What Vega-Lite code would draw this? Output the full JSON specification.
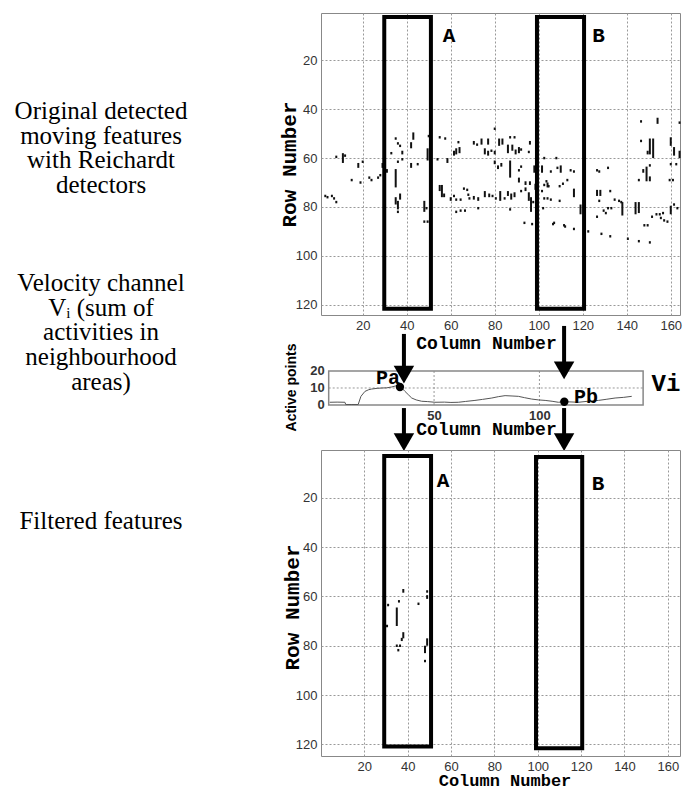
{
  "$schema": "https://vega.github.io/schema/vega-lite/v6.json",
  "padding": {"left": 0, "top": 12, "right": 5, "bottom": 0},
  "bounds": "flush",
  "columns": 2,
  "spacing": {"row": 45, "column": 119},
  "datasets": {
    "top": [
      {"c":3,"r":75,"r2":76},{"c":4,"r":75.5,"r2":76.5},{"c":6,"r":75,"r2":76},{"c":7,"r":76,"r2":77},{"c":8,"r":77.5,"r2":78.5},
      {"c":8,"r":59,"r2":60},{"c":11,"r":58,"r2":62},{"c":12,"r":58.5,"r2":59.5},{"c":18,"r":62,"r2":64},{"c":20,"r":61,"r2":62},
      {"c":15,"r":68.5,"r2":69.5},{"c":19,"r":69.5,"r2":70.5},{"c":23,"r":67.5,"r2":68.5},{"c":24,"r":68.5,"r2":69.5},{"c":27,"r":67.5,"r2":68.5},
      {"c":28,"r":66.5,"r2":67.5},{"c":29,"r":62,"r2":64},{"c":31,"r":64.5,"r2":66},{"c":33,"r":57.5,"r2":58.5},{"c":35,"r":51.5,"r2":52.5},
      {"c":36,"r":53.5,"r2":54.5},{"c":37,"r":54.5,"r2":55.5},{"c":38,"r":57,"r2":58.5},{"c":36,"r":61,"r2":62},{"c":38,"r":60,"r2":61},
      {"c":35,"r":64.5,"r2":72},{"c":35,"r":76,"r2":79},{"c":36,"r":77.5,"r2":81},{"c":37,"r":74.5,"r2":77},{"c":36,"r":81.5,"r2":82.5},
      {"c":42,"r":53.5,"r2":56},{"c":43,"r":49.5,"r2":52.5},{"c":42,"r":62,"r2":64},{"c":45,"r":62,"r2":63},{"c":48,"r":77.5,"r2":82},
      {"c":49,"r":80,"r2":81},{"c":48,"r":85.5,"r2":86.5},{"c":49.5,"r":85.5,"r2":86.5},{"c":49.5,"r":56,"r2":61},{"c":50,"r":50.5,"r2":51.5},
      {"c":55,"r":51,"r2":52},{"c":54,"r":60,"r2":61},{"c":55,"r":71,"r2":73.5},{"c":56,"r":71,"r2":76},{"c":57,"r":74.5,"r2":76},
      {"c":57.5,"r":51.5,"r2":52.5},{"c":58.5,"r":60,"r2":62},{"c":60,"r":76,"r2":77.5},{"c":61.5,"r":57,"r2":59},{"c":61.5,"r":75,"r2":76},
      {"c":62.5,"r":56,"r2":58.5},{"c":62.5,"r":76.5,"r2":77.5},{"c":62.5,"r":81.5,"r2":82.5},{"c":64,"r":55.5,"r2":58},{"c":63.5,"r":53,"r2":54},
      {"c":64.5,"r":76.5,"r2":77.5},{"c":64.5,"r":81,"r2":82},{"c":66.5,"r":81,"r2":82},{"c":66,"r":72,"r2":73},{"c":67.5,"r":72.5,"r2":73.5},
      {"c":68,"r":74.5,"r2":75.5},{"c":68.5,"r":76,"r2":77},{"c":70.5,"r":53,"r2":54.5},{"c":70.5,"r":75.5,"r2":77},{"c":72,"r":54,"r2":55},
      {"c":72.5,"r":76,"r2":77.5},{"c":72.5,"r":80,"r2":81},{"c":74,"r":52,"r2":54.5},{"c":75.5,"r":56,"r2":58.5},{"c":75.5,"r":73.5,"r2":76},
      {"c":77,"r":52,"r2":54.5},{"c":77,"r":57,"r2":59},{"c":77.5,"r":74.5,"r2":76},{"c":78.5,"r":56.5,"r2":57.5},{"c":79,"r":75,"r2":76},
      {"c":80,"r":57,"r2":58.5},{"c":80,"r":47.5,"r2":48.5},{"c":80,"r":61,"r2":62.5},{"c":80.5,"r":76,"r2":77},{"c":82,"r":52,"r2":55},
      {"c":82.5,"r":73.5,"r2":77.5},{"c":83.5,"r":52,"r2":54.5},{"c":81.5,"r":63,"r2":64.5},{"c":83,"r":62,"r2":63.5},{"c":84.5,"r":76,"r2":77},
      {"c":86,"r":73.5,"r2":75.5},{"c":86,"r":54.5,"r2":58},{"c":87,"r":51,"r2":52},{"c":87,"r":61,"r2":68},{"c":87.5,"r":74.5,"r2":77},
      {"c":87,"r":80.5,"r2":81.5},{"c":88,"r":54.5,"r2":57},{"c":89,"r":51,"r2":52},{"c":89,"r":74,"r2":76},{"c":89.5,"r":56.5,"r2":58.5},
      {"c":91,"r":55.5,"r2":58},{"c":92,"r":56,"r2":57},{"c":91,"r":64.5,"r2":65.5},{"c":92,"r":63,"r2":64},{"c":91,"r":68,"r2":70},
      {"c":92,"r":73,"r2":74},{"c":94,"r":69.5,"r2":71},{"c":94,"r":72,"r2":73.5},{"c":93.5,"r":86,"r2":87},{"c":95.5,"r":57,"r2":58},
      {"c":96,"r":53,"r2":54.5},{"c":96,"r":69.5,"r2":71},{"c":95.5,"r":74,"r2":77.5},{"c":96.5,"r":76,"r2":82},{"c":97,"r":86.5,"r2":87.5},
      {"c":98,"r":63,"r2":66},{"c":98.5,"r":70.5,"r2":73},{"c":97.5,"r":77.5,"r2":78.5},{"c":101.5,"r":73,"r2":74},{"c":102.5,"r":70.5,"r2":71.5},
      {"c":104,"r":70,"r2":72},{"c":102.5,"r":76,"r2":77},{"c":104,"r":76,"r2":77},{"c":105.5,"r":76.5,"r2":77.5},{"c":102,"r":80,"r2":81},
      {"c":102.5,"r":59.5,"r2":60.5},{"c":108,"r":59.5,"r2":60.5},{"c":105.5,"r":65,"r2":66},{"c":108.5,"r":63.5,"r2":64.5},{"c":101.5,"r":63,"r2":66},
      {"c":103.5,"r":69,"r2":70},{"c":104.5,"r":71,"r2":72},{"c":107,"r":86,"r2":87},{"c":109.5,"r":71,"r2":72},{"c":109.5,"r":77,"r2":78},
      {"c":110,"r":63,"r2":66},{"c":114.5,"r":64.5,"r2":65.5},{"c":116,"r":65,"r2":66},{"c":113,"r":68.5,"r2":69.5},{"c":111,"r":70,"r2":71},
      {"c":116,"r":72.5,"r2":76},{"c":112,"r":87.5,"r2":88.5},{"c":116,"r":88.5,"r2":89.5},{"c":106.5,"r":86.5,"r2":87.5},{"c":111.5,"r":87,"r2":88},
      {"c":119,"r":79,"r2":83},{"c":122.5,"r":89.5,"r2":90.5},{"c":126.5,"r":64.5,"r2":65.5},{"c":127.5,"r":65,"r2":66},{"c":131.5,"r":63.5,"r2":64.5},
      {"c":126.5,"r":73,"r2":75.5},{"c":128,"r":73,"r2":75.5},{"c":127.5,"r":77,"r2":78},{"c":132.5,"r":73,"r2":74},{"c":134.5,"r":76.5,"r2":77.5},
      {"c":136.5,"r":77,"r2":78},{"c":137.5,"r":77.5,"r2":78.5},{"c":138,"r":78,"r2":83.5},{"c":129.5,"r":81,"r2":82},{"c":131.5,"r":80,"r2":81},
      {"c":130.5,"r":82,"r2":83},{"c":126.5,"r":83.5,"r2":84.5},{"c":133,"r":80,"r2":81},{"c":128.5,"r":90.5,"r2":91.5},{"c":132.5,"r":91.5,"r2":92.5},
      {"c":140.5,"r":92.5,"r2":93.5},{"c":145.5,"r":93.5,"r2":94.5},{"c":150.5,"r":94,"r2":95},{"c":144,"r":78,"r2":83},{"c":145.5,"r":78,"r2":82.5},
      {"c":148,"r":87,"r2":88},{"c":149.5,"r":87,"r2":88},{"c":151.5,"r":83.5,"r2":84.5},{"c":153.5,"r":82.5,"r2":83.5},{"c":155,"r":82.5,"r2":83.5},
      {"c":156.5,"r":82,"r2":83},{"c":155.5,"r":84,"r2":85},{"c":157,"r":85,"r2":86},{"c":158.5,"r":85.5,"r2":86.5},{"c":160,"r":79.5,"r2":83},
      {"c":161.5,"r":78.5,"r2":79.5},{"c":163,"r":80,"r2":81},{"c":146.5,"r":44.5,"r2":45.5},{"c":146.5,"r":52.5,"r2":53.5},{"c":154,"r":43.5,"r2":46},
      {"c":150.5,"r":52,"r2":58.5},{"c":152,"r":52,"r2":60},{"c":149.5,"r":57,"r2":58.5},{"c":160,"r":51.5,"r2":55},{"c":161.5,"r":55.5,"r2":59},
      {"c":164,"r":57,"r2":60},{"c":164,"r":45,"r2":46},{"c":147.5,"r":64.5,"r2":66},{"c":149,"r":63.5,"r2":69.5},{"c":150.5,"r":62.5,"r2":63.5},
      {"c":145.5,"r":68.5,"r2":69.5},{"c":150.5,"r":67.5,"r2":69.5},{"c":159.5,"r":68.5,"r2":69.5},{"c":161,"r":68.5,"r2":69.5},{"c":160,"r":62,"r2":63},
      {"c":162.5,"r":62,"r2":63}
    ],
    "bottom": [
      {"c":38,"r":57,"r2":58.5},{"c":36,"r":61.5,"r2":62.5},{"c":31,"r":63,"r2":64},{"c":35,"r":64.5,"r2":72},{"c":30.5,"r":71.5,"r2":72.5},
      {"c":45,"r":62.5,"r2":63.5},{"c":49,"r":57.5,"r2":58.5},{"c":49,"r":59.5,"r2":61},{"c":38,"r":74.5,"r2":77},{"c":37.3,"r":76.8,"r2":78.1},
      {"c":36.5,"r":79.5,"r2":80.5},{"c":35.7,"r":81.3,"r2":82.3},{"c":35,"r":79.5,"r2":80.5},{"c":49,"r":77,"r2":80},{"c":48,"r":80,"r2":83},
      {"c":48,"r":85.7,"r2":86.7}
    ],
    "topBoxes": [
      {"x1":29.8,"x2":51,"y1":2.3,"y2":121.6,"lab":"A","lx":59.2,"ly":10.1},
      {"x1":99.2,"x2":120.6,"y1":2.3,"y2":121.6,"lab":"B","lx":127.2,"ly":10}
    ],
    "bottomBoxes": [
      {"x1":29.2,"x2":50.8,"y1":3.1,"y2":120.8,"lab":"A","lx":56.3,"ly":13.2},
      {"x1":99.2,"x2":120.5,"y1":3.5,"y2":121.6,"lab":"B","lx":127.8,"ly":14.4}
    ],
    "vi": [
      {"c":0.5,"v":1.6},{"c":4,"v":1.7},{"c":7.7,"v":1.6},{"c":8.1,"v":0.3},{"c":11,"v":0.3},{"c":14,"v":0.3},{"c":15.3,"v":5.1},
      {"c":17.2,"v":8},{"c":19,"v":9},{"c":20.4,"v":9.4},{"c":23,"v":9.8},{"c":25.2,"v":10},{"c":27.5,"v":10.1},{"c":29.9,"v":10.6},
      {"c":32.3,"v":11.4},{"c":33.8,"v":10.6},{"c":35,"v":9.6},{"c":36.2,"v":8},{"c":38,"v":5.8},{"c":39.4,"v":4.1},{"c":41.5,"v":3},
      {"c":44.1,"v":2.2},{"c":47,"v":2},{"c":50.4,"v":1.6},{"c":55,"v":1.7},{"c":58,"v":1.5},{"c":61.5,"v":1.6},{"c":65,"v":2.1},
      {"c":69.4,"v":2.7},{"c":73,"v":3.3},{"c":77.4,"v":4.1},{"c":80.5,"v":4.9},{"c":83.7,"v":5.5},{"c":87,"v":5.3},{"c":90,"v":5.1},
      {"c":93,"v":4.3},{"c":96.3,"v":3.5},{"c":99.5,"v":3},{"c":102.7,"v":2.7},{"c":106,"v":2.2},{"c":109,"v":1.6},{"c":111.8,"v":1.9},
      {"c":115,"v":1.8},{"c":118.5,"v":1.6},{"c":123,"v":2.2},{"c":128,"v":2.7},{"c":132,"v":3.4},{"c":135.9,"v":4.1},{"c":140,"v":4.5},
      {"c":143.8,"v":5.1}
    ],
    "peaks": [
      {"c":33.8,"v":10.6,"name":"Pa","lc":28.1,"lv":15.9},
      {"c":111.8,"v":1.9,"name":"Pb","lc":122.1,"lv":4.7}
    ],
    "arrows": [
      {"c":35.7,"top":41.8,"head":17.9},
      {"c":111.7,"top":46.5,"head":20.3},
      {"c":35.7,"top":-1.8,"head":-21.8},
      {"c":111.7,"top":-1.8,"head":-21.8}
    ]
  },
  "concat": [
    {
      "width": 202, "height": 302, "view": {"stroke": null},
      "data": {"values": [{"label": "Original detected\nmoving features\nwith Reichardt\ndetectors"}]},
      "mark": {"type": "text", "lineBreak": "\n", "font": "Liberation Serif", "fontSize": 25, "lineHeight": 24.7, "dy": -53, "align": "center", "baseline": "middle", "color": "#000"},
      "encoding": {"text": {"field": "label"}}
    },
    {
      "width": 359, "height": 302,
      "layer": [
        {
          "data": {"name": "top"},
          "mark": {"type": "rule", "color": "#111", "strokeWidth": 2, "strokeCap": "butt"},
          "encoding": {
            "x": {"field": "c", "type": "quantitative", "scale": {"domain": [1.05, 164.2], "nice": false, "zero": false},
                  "axis": {"values": [20,40,60,80,100,120,140,160], "title": "Column Number", "grid": true, "titleX": 165, "titleY": 28, "titleBaseline": "middle"}},
            "y": {"field": "r", "type": "quantitative", "scale": {"domain": [0.65, 124.2], "reverse": true, "nice": false, "zero": false},
                  "axis": {"values": [20,40,60,80,100,120], "title": "Row Number", "grid": true, "titleX": -32, "titleY": 151, "titleBaseline": "middle", "titleAlign": "center", "titleFontSize": 21}},
            "y2": {"field": "r2"}
          }
        },
        {
          "data": {"name": "topBoxes"},
          "mark": {"type": "rect", "filled": false, "color": "#000", "strokeWidth": 4},
          "encoding": {
            "x": {"field": "x1", "type": "quantitative"}, "x2": {"field": "x2"},
            "y": {"field": "y1", "type": "quantitative"}, "y2": {"field": "y2"}
          }
        },
        {
          "data": {"name": "topBoxes"},
          "mark": {"type": "text", "font": "Liberation Mono", "fontWeight": "bold", "fontSize": 21, "color": "#000"},
          "encoding": {
            "x": {"field": "lx", "type": "quantitative"},
            "y": {"field": "ly", "type": "quantitative"},
            "text": {"field": "lab"}
          }
        }
      ]
    },
    {
      "width": 202, "height": 45, "view": {"stroke": null},
      "data": {"values": [{"label": "Velocity channel\nVᵢ (sum of\nactivities in\nneighbourhood\nareas)"}]},
      "mark": {"type": "text", "lineBreak": "\n", "font": "Liberation Serif", "fontSize": 25, "lineHeight": 24.7, "dy": -99.5, "align": "center", "baseline": "middle", "color": "#000"},
      "encoding": {"text": {"field": "label"}}
    },
    {
      "width": 359, "height": 45, "view": {"stroke": null},
      "layer": [
        {
          "data": {"values": [{"g": 50}, {"g": 100}]},
          "mark": {"type": "rule", "color": "#999", "strokeDash": [2, 2], "strokeWidth": 1},
          "encoding": {
            "x": {"field": "g", "type": "quantitative", "scale": {"domain": [-3.65, 166.7], "nice": false, "zero": false},
                  "axis": {"values": [50, 100], "title": "Column Number", "grid": false, "labelFontWeight": "bold", "titleX": 165, "titleY": 24, "titleBaseline": "middle"}},
            "y": {"datum": 0, "type": "quantitative", "scale": {"domain": [0, 26.47], "nice": false, "zero": false},
                  "axis": {"values": [0, 10, 20], "labels": false, "title": "Active points", "grid": false, "offset": -8, "titleFont": "Liberation Sans", "titleFontSize": 14, "titleFontWeight": "bold", "titleX": -38, "titleY": 27, "titleBaseline": "middle", "titleAlign": "center"}},
            "y2": {"datum": 20}
          }
        },
        {
          "data": {"values": [{"h": 10}]},
          "mark": {"type": "rule", "color": "#999", "strokeDash": [2, 2], "strokeWidth": 1},
          "encoding": {
            "x": {"datum": 0, "type": "quantitative"},
            "x2": {"datum": 149.2},
            "y": {"field": "h", "type": "quantitative"}
          }
        },
        {
          "data": {"values": [{"tick": "0", "v": 0}, {"tick": "10", "v": 10}, {"tick": "20", "v": 20}]},
          "mark": {"type": "text", "align": "right", "baseline": "middle", "font": "Liberation Sans", "fontWeight": "bold", "fontSize": 13, "color": "#333"},
          "encoding": {
            "x": {"datum": -1.9, "type": "quantitative"},
            "y": {"field": "v", "type": "quantitative"},
            "text": {"field": "tick"}
          }
        },
        {
          "data": {"values": [{}]},
          "mark": {"type": "rect", "filled": false, "color": "#888", "strokeWidth": 1.5},
          "encoding": {
            "x": {"datum": 0, "type": "quantitative"}, "x2": {"datum": 149.2},
            "y": {"datum": 0, "type": "quantitative"}, "y2": {"datum": 20}
          }
        },
        {
          "data": {"name": "vi"},
          "mark": {"type": "line", "color": "#555", "strokeWidth": 1},
          "encoding": {
            "x": {"field": "c", "type": "quantitative"},
            "y": {"field": "v", "type": "quantitative"}
          }
        },
        {
          "data": {"name": "peaks"},
          "mark": {"type": "point", "filled": true, "color": "#000", "size": 70, "opacity": 1, "shape": "circle"},
          "encoding": {
            "x": {"field": "c", "type": "quantitative"},
            "y": {"field": "v", "type": "quantitative"}
          }
        },
        {
          "data": {"name": "peaks"},
          "mark": {"type": "text", "font": "Liberation Mono", "fontWeight": "bold", "fontSize": 20, "color": "#000"},
          "encoding": {
            "x": {"field": "lc", "type": "quantitative"},
            "y": {"field": "lv", "type": "quantitative"},
            "text": {"field": "name"}
          }
        },
        {
          "data": {"values": [{"c": 160, "v": 12.3, "t": "Vi"}]},
          "mark": {"type": "text", "font": "Liberation Mono", "fontWeight": "bold", "fontSize": 24, "color": "#000"},
          "encoding": {
            "x": {"field": "c", "type": "quantitative"},
            "y": {"field": "v", "type": "quantitative"},
            "text": {"field": "t"}
          }
        },
        {
          "data": {"name": "arrows"},
          "mark": {"type": "rule", "color": "#000", "strokeWidth": 4, "strokeCap": "butt"},
          "encoding": {
            "x": {"field": "c", "type": "quantitative"},
            "y": {"field": "top", "type": "quantitative"},
            "y2": {"field": "head"}
          }
        },
        {
          "data": {"name": "arrows"},
          "mark": {"type": "point", "shape": "triangle-down", "filled": true, "color": "#000", "size": 420, "opacity": 1},
          "encoding": {
            "x": {"field": "c", "type": "quantitative"},
            "y": {"field": "head", "type": "quantitative"}
          }
        }
      ]
    },
    {
      "width": 202, "height": 306, "view": {"stroke": null},
      "data": {"values": [{"label": "Filtered features"}]},
      "mark": {"type": "text", "lineBreak": "\n", "font": "Liberation Serif", "fontSize": 25, "lineHeight": 24.7, "dy": -82, "align": "center", "baseline": "middle", "color": "#000"},
      "encoding": {"text": {"field": "label"}}
    },
    {
      "width": 359, "height": 306,
      "layer": [
        {
          "data": {"name": "bottom"},
          "mark": {"type": "rule", "color": "#111", "strokeWidth": 2, "strokeCap": "butt"},
          "encoding": {
            "x": {"field": "c", "type": "quantitative", "scale": {"domain": [0.05, 165.6], "nice": false, "zero": false},
                  "axis": {"values": [20,40,60,80,100,120,140,160], "title": "Column Number", "grid": true, "titleX": 183.5, "titleY": 24.5, "titleBaseline": "middle", "titleFontSize": 17}},
            "y": {"field": "r", "type": "quantitative", "scale": {"domain": [0.65, 124.7], "reverse": true, "nice": false, "zero": false},
                  "axis": {"values": [20,40,60,80,100,120], "title": "Row Number", "grid": true, "titleX": -29, "titleY": 157, "titleBaseline": "middle", "titleAlign": "center", "titleFontSize": 21}},
            "y2": {"field": "r2"}
          }
        },
        {
          "data": {"name": "bottomBoxes"},
          "mark": {"type": "rect", "filled": false, "color": "#000", "strokeWidth": 4},
          "encoding": {
            "x": {"field": "x1", "type": "quantitative"}, "x2": {"field": "x2"},
            "y": {"field": "y1", "type": "quantitative"}, "y2": {"field": "y2"}
          }
        },
        {
          "data": {"name": "bottomBoxes"},
          "mark": {"type": "text", "font": "Liberation Mono", "fontWeight": "bold", "fontSize": 21, "color": "#000"},
          "encoding": {
            "x": {"field": "lx", "type": "quantitative"},
            "y": {"field": "ly", "type": "quantitative"},
            "text": {"field": "lab"}
          }
        }
      ]
    }
  ],
  "config": {
    "view": {"stroke": "#888", "strokeWidth": 1},
    "axis": {
      "domain": false, "ticks": false,
      "labelFont": "Liberation Sans", "labelFontSize": 13, "labelColor": "#333", "labelPadding": 4,
      "gridColor": "#999", "gridDash": [2, 2], "gridWidth": 1, "gridOpacity": 1,
      "titleFont": "Liberation Mono", "titleFontWeight": "bold", "titleFontSize": 18, "titleColor": "#000"
    }
  }
}
